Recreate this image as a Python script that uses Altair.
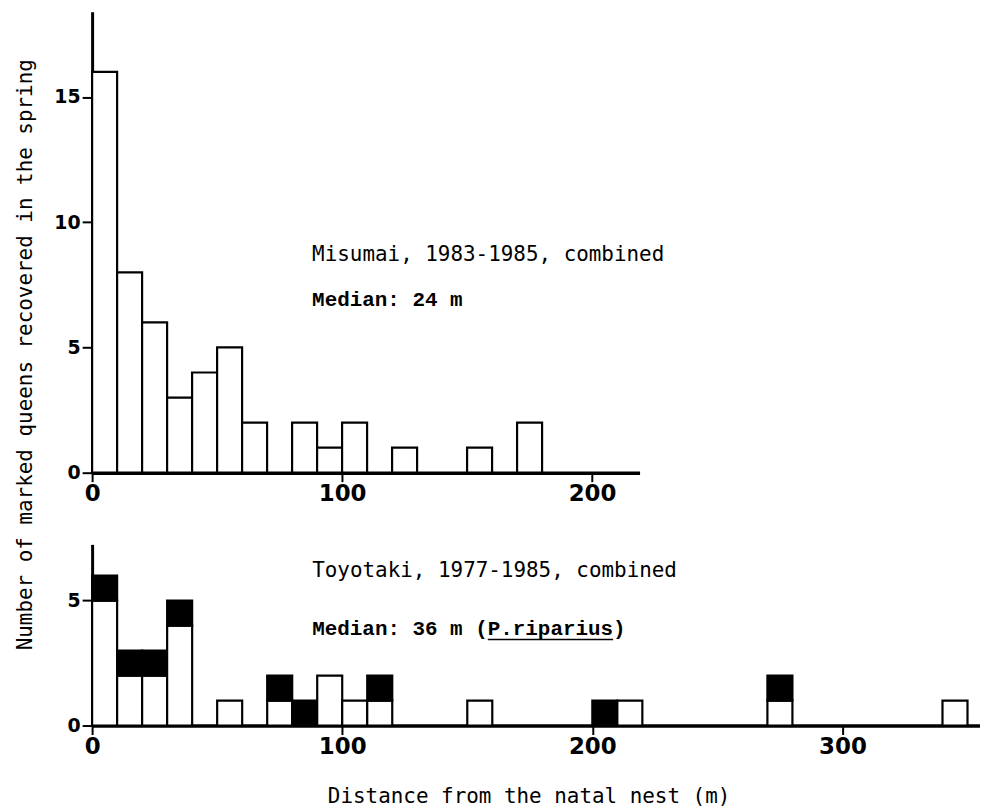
import altair as alt
import pandas as pd

# ---- data ----
BIN = 10
top_start = [0, 10, 20, 30, 40, 50, 60, 70, 80, 90, 100, 110, 120, 130, 140, 150, 160, 170]
top_count = [16, 8, 6, 3, 4, 5, 2, 0, 2, 1, 2, 0, 1, 0, 0, 1, 0, 2]

bot_start = [0, 10, 20, 30, 50, 70, 80, 90, 100, 110, 150, 200, 210, 270, 340]
bot_white = [5, 2, 2, 4, 1, 1, 0, 2, 1, 1, 1, 0, 1, 1, 1]
bot_black = [1, 1, 1, 1, 0, 1, 1, 0, 0, 1, 0, 1, 0, 1, 0]

top_ticks_x = [0, 100, 200]
top_ticks_y = [0, 5, 10, 15]
bot_ticks_x = [0, 100, 200, 300]
bot_ticks_y = [0, 5]

top_title = "Misumai, 1983-1985, combined"
top_median = "Median: 24 m"
bot_title = "Toyotaki, 1977-1985, combined"
bot_median = "Median: 36 m (P.riparius)"
y_title = "Number of marked queens recovered in the spring"
x_title = "Distance from the natal nest (m)"

# ---- tables ----
top_df = pd.DataFrame({"start": top_start, "count": top_count})
top_df["end"] = top_df["start"] + BIN
top_df = top_df[top_df["count"] > 0]

rows = []
for s, w, b in zip(bot_start, bot_white, bot_black):
    if w > 0:
        rows.append({"start": s, "end": s + BIN, "lo": 0, "hi": w, "kind": "white"})
    if b > 0:
        rows.append({"start": s, "end": s + BIN, "lo": w, "hi": w + b, "kind": "black"})
bot_df = pd.DataFrame(rows)

LABEL_FONT = "DejaVu Sans"
MONO = "DejaVu Sans Mono"
COURIER = "Liberation Mono"


def xaxis(values, title=None, **kw):
    return alt.Axis(values=values, title=title, grid=False, domainWidth=3.5,
                    domainColor="black", tickColor="black", tickWidth=2,
                    tickSize=9, labelFont=LABEL_FONT, labelFontWeight="bold",
                    labelFontSize=23, labelPadding=1, labelColor="black",
                    labelFlush=False, **kw)


def yaxis(values, title=None, **kw):
    return alt.Axis(values=values, title=title, grid=False, domainWidth=3,
                    domainColor="black", tickColor="black", tickWidth=2,
                    tickSize=10, labelFont=LABEL_FONT, labelFontWeight="bold",
                    labelFontSize=19, labelPadding=2, labelColor="black", **kw)


# ---- top panel ----
xs_top = alt.Scale(domain=[0, 219], nice=False, zero=False)
ys_top = alt.Scale(domain=[0, 18.4], nice=False)

top_bars = alt.Chart(top_df).mark_rect(fill="white", stroke="black", strokeWidth=2.2).encode(
    x=alt.X("start:Q", scale=xs_top, axis=xaxis(top_ticks_x)),
    x2="end:Q",
    y=alt.Y("count:Q", scale=ys_top,
            axis=yaxis(top_ticks_y, title=y_title, titleX=-66.5, titleY=344,
                       titleAngle=270, titleAlign="center", titleBaseline="middle",
                       titleFont=MONO, titleFontSize=21, titleFontWeight="normal",
                       titleColor="black")),
    y2=alt.datum(0),
)

top_txt = alt.Chart(pd.DataFrame({"x": [88.0], "y": [8.47], "t": [top_title]})).mark_text(
    font=MONO, fontSize=21, align="left", baseline="alphabetic", color="black"
).encode(x=alt.X("x:Q", scale=xs_top), y=alt.Y("y:Q", scale=ys_top), text="t:N")

top_med = alt.Chart(pd.DataFrame({"x": [88.0], "y": [6.65], "t": [top_median]})).mark_text(
    font=COURIER, fontSize=21, fontWeight="bold", align="left", baseline="alphabetic", color="black"
).encode(x=alt.X("x:Q", scale=xs_top), y=alt.Y("y:Q", scale=ys_top), text="t:N")

top = alt.layer(top_bars, top_txt, top_med).properties(width=550, height=463)

# ---- bottom panel ----
xs_bot = alt.Scale(domain=[0, 355], nice=False, zero=False)
ys_bot = alt.Scale(domain=[0, 7.25], nice=False)

bot_bars = alt.Chart(bot_df).mark_rect(stroke="black", strokeWidth=2.2).encode(
    x=alt.X("start:Q", scale=xs_bot,
            axis=xaxis(bot_ticks_x, title=x_title, titleX=438.5, titleY=77,
                       titleAlign="center", titleBaseline="alphabetic",
                       titleFont=MONO, titleFontSize=21, titleFontWeight="normal",
                       titleColor="black")),
    x2="end:Q",
    y=alt.Y("lo:Q", scale=ys_bot, axis=yaxis(bot_ticks_y)),
    y2="hi:Q",
    fill=alt.Fill("kind:N", scale=alt.Scale(domain=["white", "black"], range=["white", "black"]),
                  legend=None),
)

bot_txt = alt.Chart(pd.DataFrame({"x": [88.0], "y": [5.94], "t": [bot_title]})).mark_text(
    font=MONO, fontSize=21, align="left", baseline="alphabetic", color="black"
).encode(x=alt.X("x:Q", scale=xs_bot), y=alt.Y("y:Q", scale=ys_bot), text="t:N")

bot_med = alt.Chart(pd.DataFrame({"x": [88.0], "y": [3.63], "t": [bot_median]})).mark_text(
    font=COURIER, fontSize=21, fontWeight="bold", align="left", baseline="alphabetic", color="black"
).encode(x=alt.X("x:Q", scale=xs_bot), y=alt.Y("y:Q", scale=ys_bot), text="t:N")

underline = alt.Chart(pd.DataFrame({"x": [158.2], "x2": [208.3], "y": [3.44]})).mark_rule(
    color="black", strokeWidth=1.5
).encode(x=alt.X("x:Q", scale=xs_bot), x2="x2:Q", y=alt.Y("y:Q", scale=ys_bot))

bottom = alt.layer(bot_bars, bot_txt, bot_med, underline).properties(width=892, height=182)

chart = alt.vconcat(top, bottom, spacing=72, bounds="flush").resolve_scale(
    x="independent", y="independent"
).properties(
    padding={"left": 6.5, "top": 2, "right": 0, "bottom": 0},
    background="white",
).configure_view(strokeWidth=0, stroke="transparent")

chart.save("out.html", embed_options={"renderer": "svg", "actions": False})
